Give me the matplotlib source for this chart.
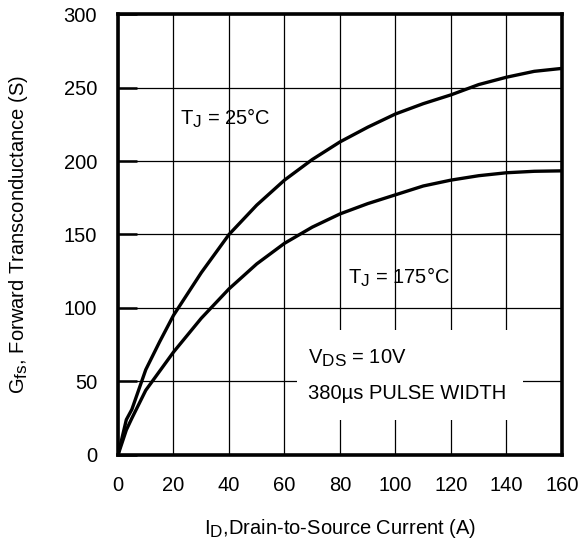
import numpy as np
import matplotlib
matplotlib.use('Agg')
import matplotlib.pyplot as plt
from matplotlib.patches import Rectangle

"""
Forward transconductance vs drain current, two junction temperatures.
"""

plt.rcParams['font.family'] = 'Liberation Sans'
plt.rcParams['mathtext.fontset'] = 'custom'
plt.rcParams['mathtext.rm'] = 'Liberation Sans'
plt.rcParams['mathtext.it'] = 'Liberation Sans:italic'

# the datasheet uses large subscripts
try:
    import matplotlib._mathtext as _mt
    _mt.SHRINK_FACTOR = 0.85
except Exception:
    pass

# values
id_25 = [0, 3, 5, 10, 15, 20, 30, 40, 50, 60, 70, 80, 90, 100, 110, 120, 130, 140, 150, 160]
gfs_25 = [0, 24, 31, 58, 77, 95, 124, 150, 170, 187, 201, 213, 223, 232, 239, 245, 252, 257, 261, 263]

id_175 = [0, 3, 5, 10, 15, 20, 30, 40, 50, 60, 70, 80, 90, 100, 110, 120, 130, 140, 150, 160]
gfs_175 = [0, 17, 25, 44, 57, 70, 93, 113, 130, 144, 155, 164, 171, 177, 183, 187, 190, 192, 193, 193.3]

xticks = np.arange(0, 161, 20)
yticks = np.arange(0, 301, 50)

fs = 14.5

fig = plt.figure(figsize=(5.79, 5.41), dpi=100)
ax = fig.add_axes([0.2038, 0.159, 0.7668, 0.8151])

ax.set_xlim(0, 160)
ax.set_ylim(0, 300)
ax.set_xticks(xticks)
ax.set_yticks(yticks)
ax.grid(True, color='black', linewidth=0.9)
ax.set_axisbelow(True)

ax.tick_params(axis='x', length=0, pad=15, labelsize=fs)
ax.tick_params(axis='y', direction='in', length=14, width=1.8, pad=15, labelsize=fs)
for s in ax.spines.values():
    s.set_linewidth(2.6)

ax.plot(id_25, gfs_25, color='black', linewidth=2.4, solid_joinstyle='round', zorder=3)
ax.plot(id_175, gfs_175, color='black', linewidth=2.4, solid_joinstyle='round', zorder=3)

# white box behind the test conditions note
ax.add_patch(Rectangle((64.5, 24), 81.5, 61, facecolor='white', edgecolor='none', zorder=2))

ax.text(22.3, 229, r'T$_\mathrm{J}$ = 25°C', fontsize=fs, va='center', zorder=4)
ax.text(83, 121, r'T$_\mathrm{J}$ = 175°C', fontsize=fs, va='center', zorder=4)
ax.text(68.5, 66, r'V$_\mathrm{DS}$ = 10V', fontsize=fs, va='center', zorder=4)
ax.text(68.5, 42, '380µs PULSE WIDTH', fontsize=fs, va='center', zorder=4)

ax.set_xlabel(r'I$_\mathrm{D}$,Drain-to-Source Current (A)', fontsize=fs, labelpad=16)
ax.set_ylabel(r'G$_\mathrm{fs}$, Forward Transconductance (S)', fontsize=fs, labelpad=24)

fig.savefig('out.png', dpi=100)
